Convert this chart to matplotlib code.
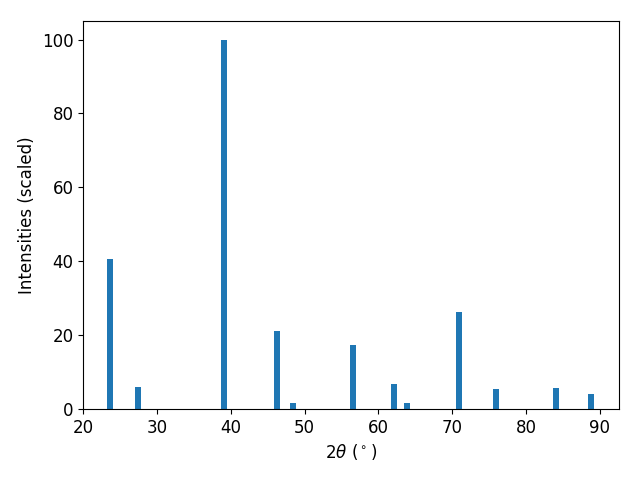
import numpy as np
import matplotlib.pyplot as plt

# peak positions (2theta) and scaled intensities
two_theta = [23.64, 27.41, 39.1, 46.29, 48.46, 56.59, 62.14, 63.9, 70.88, 75.89, 84.09, 88.83]
intensity = [40.6, 6.0, 100.0, 21.1, 1.6, 17.3, 6.8, 1.6, 26.3, 5.4, 5.7, 4.1]

plt.rcParams['font.size'] = 12

fig, ax = plt.subplots(figsize=(6.4, 4.8), dpi=100)
ax.bar(two_theta, intensity, width=0.8)
ax.set_xlim(20, 92.6)
ax.set_xlabel(r'$2\theta$ ($^\circ$)')
ax.set_ylabel('Intensities (scaled)')
fig.subplots_adjust(left=0.13, right=0.967, top=0.956, bottom=0.148)
fig.savefig('out.png')
